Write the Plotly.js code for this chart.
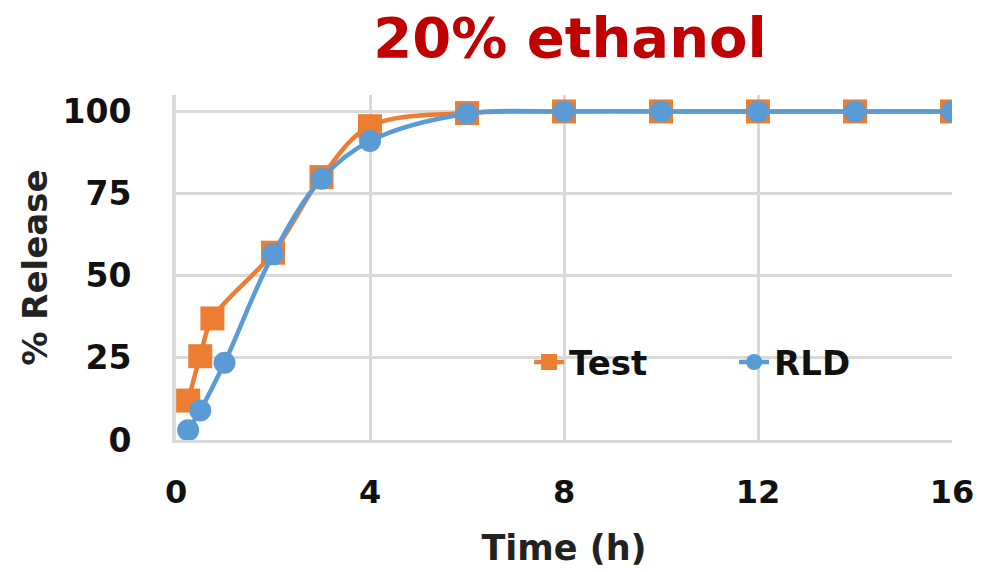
<!DOCTYPE html>
<html><head><meta charset="utf-8">
<script src="https://cdn.plot.ly/plotly-3.0.1.min.js"></script>
<style>html,body{margin:0;padding:0;background:#fff}#c{width:981px;height:572px}</style>
</head><body><div id="c"></div>
<script>
const testTime = [0.25, 0.5, 0.75, 2, 3, 4, 6, 8, 10, 12, 14, 16];
const testRelease = [12, 25.5, 37, 57, 80, 95.5, 99.5, 100, 100, 100, 100, 100];
const rldTime = [0.25, 0.5, 1, 2, 3, 4, 6, 8, 10, 12, 14, 16];
const rldRelease = [3, 9, 23.5, 56.5, 79.5, 91, 99.3, 100, 100, 100, 100, 100];
const xTicks = [0, 4, 8, 12, 16];
const yTicks = [0, 25, 50, 75, 100];

const F = '"DejaVu Sans", Verdana, sans-serif';
const traces = [
  {x: testTime, y: testRelease, name: 'Test', type: 'scatter', mode: 'lines+markers',
   line: {color: '#ED7D31', width: 4.5, shape: 'spline', smoothing: 1},
   marker: {symbol: 'square', size: 24, color: '#ED7D31'}},
  {x: rldTime, y: rldRelease, name: 'RLD', type: 'scatter', mode: 'lines+markers',
   line: {color: '#5B9BD5', width: 4.5, shape: 'spline', smoothing: 1},
   marker: {symbol: 'circle', size: 22, color: '#5B9BD5'}}
];
const layout = {
  width: 981, height: 572,
  margin: {l: 176, r: 29, t: 95, b: 132},
  paper_bgcolor: '#fff', plot_bgcolor: '#fff',
  title: {text: '20% ethanol', x: 0.581, xanchor: 'center', y: 0.935, yanchor: 'middle',
          font: {family: F, size: 56, color: '#C00000', weight: 'bold'}},
  xaxis: {range: [0, 16], tickvals: xTicks, ticktext: xTicks.map(String), showgrid: true,
          gridcolor: '#D9D9D9', gridwidth: 3, zeroline: false, showline: true, linecolor: '#D9D9D9', linewidth: 3,
          ticks: '', ticklabelstandoff: 22,
          tickfont: {family: F, size: 32, color: '#111', weight: 'bold'},
          title: {text: 'Time (h)', standoff: 26, font: {family: F, size: 35, color: '#222', weight: 'bold'}}},
  yaxis: {range: [0, 105], tickvals: yTicks, ticktext: yTicks.map(String), showgrid: true,
          gridcolor: '#D9D9D9', gridwidth: 3, zeroline: false, showline: true, linecolor: '#D9D9D9', linewidth: 4,
          ticks: '', ticklabelstandoff: 34,
          tickfont: {family: F, size: 33, color: '#111', weight: 'bold'},
          title: {text: '% Release', standoff: 6, font: {family: F, size: 34, color: '#222', weight: 'bold'}}},
  showlegend: true,
  legend: {orientation: 'h', x: 0.455, xanchor: 'left', y: 0.225, yanchor: 'middle',
           bgcolor: 'rgba(0,0,0,0)', font: {family: F, size: 34, color: '#111', weight: 'bold'},
           itemwidth: 30, entrywidth: 160, entrywidthmode: 'pixels'}
};
Plotly.newPlot('c', traces, layout, {displayModeBar: false});
</script></body></html>
